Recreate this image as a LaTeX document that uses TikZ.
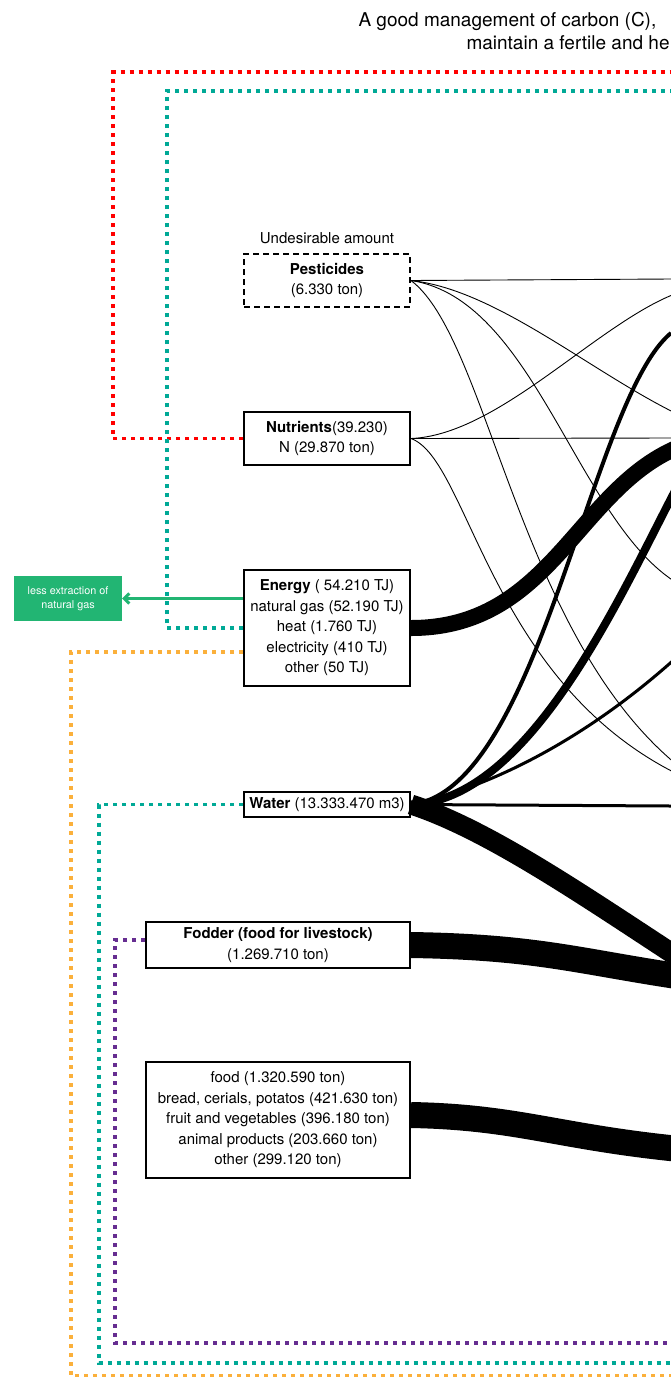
\documentclass[tikz,border=0pt]{standalone}
\usepackage{fontspec}
\setmainfont{TeX Gyre Heros}
\usetikzlibrary{arrows.meta,positioning}
\definecolor{dotred}{RGB}{255,0,0}
\definecolor{dotteal}{RGB}{0,169,150}
\definecolor{dotorange}{RGB}{251,176,59}
\definecolor{dotpurple}{RGB}{102,45,145}
\definecolor{gasgreen}{RGB}{34,181,115}

\begin{document}
\begin{tikzpicture}[x=1pt,y=-1pt,
  box/.style={draw,line width=2pt,align=center,inner sep=0pt,font=\fontsize{15}{20.5}\selectfont},
  dotline/.style={line width=3.5pt,dash pattern=on 4pt off 5pt},
  thinflow/.style={line width=0.9pt},
  flow/.style={line width=#1}]
  \useasboundingbox (0,0) rectangle (671,1377);
  \clip (0,0) rectangle (671,1377);

  % heading, cut at the right edge
  \node[anchor=base west,font=\fontsize{19}{23}\selectfont] (head1) at (355,26) {A good management of carbon (C),};
  \node[anchor=base west,font=\fontsize{19}{23}\selectfont] (head2) at (463,49) {maintain a fertile and he};

  % inputs
  \node[box,dashed,dash pattern=on 6pt off 4pt,minimum width=166pt,minimum height=53pt] (pest) at (327,280.5) {\textbf{Pesticides}\\(6.330 ton)};
  \node[above=6pt of pest,font=\fontsize{15}{18}\selectfont] (undes) {Undesirable amount};
  \node[box,minimum width=166pt,minimum height=53pt] (nutr) at (327,438.5) {\textbf{Nutrients}(39.230)\\N (29.870 ton)};
  \node[box,minimum width=166pt,minimum height=116pt] (energy) at (327,628) {\textbf{Energy} ( 54.210 TJ)\\natural gas (52.190 TJ)\\heat (1.760 TJ)\\electricity (410 TJ)\\other (50 TJ)};
  \node[box,minimum width=166pt,minimum height=25pt] (water) at (327,804.5) {\textbf{Water} (13.333.470 m3)};
  \node[box,minimum width=264pt,minimum height=46pt] (fodder) at (278,945) {\textbf{Fodder (food for livestock)}\\(1.269.710 ton)};
  \node[box,minimum width=264pt,minimum height=116pt] (food) at (278,1120) {food (1.320.590 ton)\\bread, cerials, potatos (421.630 ton)\\fruit and vegetables (396.180 ton)\\animal products (203.660 ton)\\other (299.120 ton)};
  \node[fill=gasgreen,text=white,align=center,minimum width=108pt,minimum height=45pt,inner sep=0pt,font=\fontsize{10.8}{14}\selectfont] (gas) at (68,598.5) {less extraction of\\natural gas};

  % free ends at the right edge
  \coordinate (redR) at (680,72);
  \coordinate (tealR) at (680,91);
  \coordinate (tealR2) at (680,1363);
  \coordinate (purpR) at (680,1343);
  \coordinate (orangeR) at (680,1376);

  % cycles
  \draw[dotline,dotred] (nutr.west) -| (113,72) -- (redR);
  \draw[dotline,dotteal] (energy.west) -| (167,91) -- (tealR);
  \draw[dotline,dotorange] ([yshift=-24pt]energy.west) -| (71,1376) -- (orangeR);
  \draw[dotline,dotteal] (water.west) -| (99,1363) -- (tealR2);
  \draw[dotline,dotpurple] ([yshift=5pt]fodder.west) -| (115,1343) -- (purpR);
  \draw[gasgreen,line width=3pt,-{Straight Barb[length=5pt,width=10pt]}] (energy.west |- gas.east) -- (gas.east);

  % flows out of pesticides
  \draw[thinflow] (pest.east) -- (671,279);
  \draw[thinflow] (pest.east) .. controls (500,290) and (600,380) .. (690,420);
  \draw[thinflow] (pest.east) .. controls (540,300) and (580,540) .. (690,590);
  \draw[thinflow] (pest.east) .. controls (490,340) and (520,650) .. (690,775);
  % flows out of nutrients
  \draw[thinflow] (nutr.east) .. controls (500,435) and (600,320) .. (680,292);
  \draw[thinflow] (nutr.east) -- (671,438);
  \draw[thinflow] (nutr.east) .. controls (470,460) and (490,690) .. (690,780);
  % energy
  \draw[flow=16pt] (energy.east) .. controls (560,628) and (580,470) .. (700,440);
  % flows out of water
  \draw[flow=4pt] (water.east) .. controls (540,790) and (590,400) .. (671,333);
  \draw[flow=8pt] (water.east) .. controls (540,800) and (635,560) .. (690,463);
  \draw[flow=3pt] (water.east) .. controls (500,785) and (600,730) .. (690,645);
  \draw[flow=3pt] (water.east) -- (671,806);
  \draw[flow=20pt] (water.east) .. controls (490,830) and (590,900) .. (690,965);
  % fodder and food
  \draw[flow=26pt] (fodder.east) .. controls (540,947) and (580,962) .. (690,978);
  \draw[flow=26pt] ([yshift=5pt]food.east) .. controls (520,1117) and (560,1138) .. (690,1150);
\end{tikzpicture}
\end{document}
